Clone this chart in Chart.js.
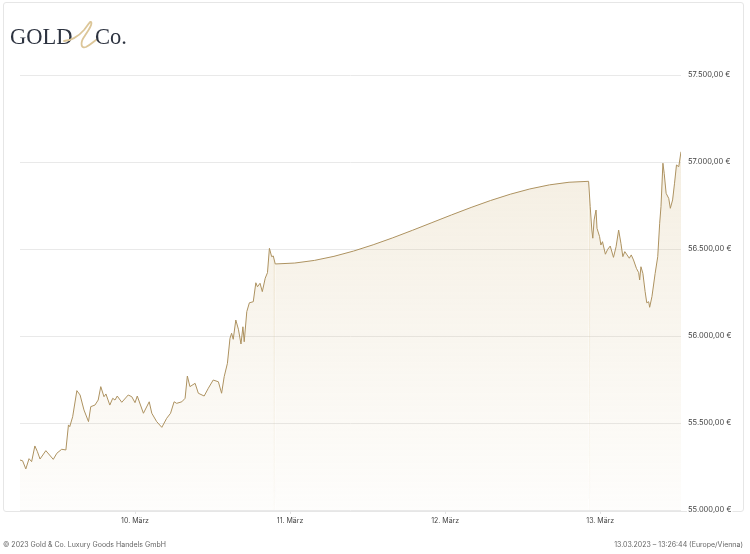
<!DOCTYPE html>
<html>
<head>
<meta charset="utf-8">
<script src="https://cdn.jsdelivr.net/npm/chart.js@4/dist/chart.umd.min.js"></script>
<style>
    body { margin: 0; background: #fff; }
    #wrap { position: relative; width: 750px; height: 554px; overflow: hidden; }
    #box { position: absolute; left: 3px; top: 2px; width: 739px; height: 508px; border: 1px solid #e6e6e6; border-radius: 3px; }
    #chart { position: absolute; left: 0; top: 0; }
    #logo { position: absolute; left: 10px; top: 14px; }
    .foot { position: absolute; top: 540px; font: 7px Inter, sans-serif; color: #666; white-space: nowrap; }
</style>
</head>
<body>
<div id="wrap">
    <div id="box"></div>
    <canvas id="chart" width="750" height="554"></canvas>
    <svg id="logo" width="130" height="42" viewBox="10 14 130 42">
        <text x="10" y="44" font-family="Liberation Serif, serif" font-size="22.5" fill="#2d3340">GOLD</text>
        <path d="M64 41 C70 41 78 37 84 30 C88 25 90 21 91 22 C93 24 88 31 84 37 C80 43 81 49 86 47 C90 45 93 42 96 40"
              fill="none" stroke="#dcc698" stroke-width="1.8" stroke-linecap="round"/>
        <text x="95" y="44" font-family="Liberation Serif, serif" font-size="22.5" fill="#2d3340">Co.</text>
    </svg>
    <div class="foot" style="left:3px">© 2023 Gold &amp; Co. Luxury Goods Handels GmbH</div>
    <div class="foot" style="right:7px">13.03.2023 – 13:26:44 (Europe/Vienna)</div>
</div>
<script>
// hours since 9 March 00:00 (Europe/Vienna)
var hours = [
    6.2, 6.6, 7.1, 7.6, 8.0, 8.5, 8.9, 9.3, 10.2, 11.35, 11.9, 12.65, 13.3, 13.7, 13.9, 14.35,
    15.0, 15.5, 16.1, 16.8, 17.15, 17.8, 18.3, 18.7, 19.2, 19.5, 20.1, 20.55, 20.9, 21.25, 21.95,
    22.95, 23.5, 24.0, 24.35, 25.3, 26.2, 26.6, 27.35, 28.15, 28.9, 29.5, 30.05, 30.45, 31.25,
    31.75, 32.1, 32.5, 33.3, 33.8, 34.7, 35.35, 36.1, 36.9, 37.4, 37.8, 38.3, 38.7, 38.95, 39.2,
    39.6, 40.0, 40.4, 40.7, 40.9, 41.3, 41.7, 42.3, 42.7, 42.95, 43.35, 43.7, 44.15, 44.5, 44.8,
    45.15, 45.4, 45.7,
    94.2, 94.45, 94.7, 94.85, 95.05, 95.35, 95.5, 95.9, 96.1, 96.35, 96.8, 97.15, 97.55, 98.05,
    98.45, 98.85, 99.2, 99.5, 99.8, 100.15, 100.5, 100.8, 101.15, 101.6, 101.95, 102.1, 102.3,
    102.6, 102.95, 103.2, 103.5, 103.65, 104.0, 104.5, 104.9, 105.2, 105.4, 105.7, 105.9, 106.2,
    106.6, 106.85, 107.2, 107.5, 107.8, 108.15, 108.5
];

var prices = [
    55287, 55283, 55236, 55295, 55278, 55368, 55335, 55293, 55341, 55291, 55326, 55349, 55345, 55489, 55479, 55536,
    55686, 55661, 55575, 55508, 55594, 55603, 55632, 55709, 55651, 55667, 55603, 55642, 55632, 55655, 55619,
    55661, 55651, 55617, 55655, 55556, 55622, 55556, 55508, 55475, 55527, 55556, 55622, 55613, 55622,
    55642, 55770, 55709, 55728, 55671, 55655, 55700, 55747, 55737, 55671, 55766, 55843, 55987, 56016, 55981,
    56092, 56039, 55954, 56053, 55967, 56140, 56191, 56197, 56306, 56283, 56303, 56255, 56332, 56364, 56504,
    56456, 56460, 56414,
    56889, 56743, 56609, 56562, 56667, 56724, 56619, 56571, 56523, 56542, 56470, 56498, 56517, 56452,
    56513, 56609, 56533, 56456, 56485, 56466, 56447, 56466, 56437, 56389, 56364, 56322, 56398,
    56360, 56255, 56191, 56197, 56165, 56226, 56360, 56456, 56648, 56743, 56993, 56935, 56820,
    56791, 56734, 56782, 56878, 56983, 56973, 57059
];

var dayTicks = [24, 48, 72, 96];
var dayLabels = ['10. März', '11. März', '12. März', '13. März'];

var priceTicks = [55000, 55500, 56000, 56500, 57000, 57500];

var lineColor = '#ad9260';
var clear = 'rgba(0,0,0,0)';

function euro(v)
{
    var s = Math.round(v).toString().replace(/\B(?=(\d{3})+(?!\d))/g, '.');

    return s + ',00 €';
}

function isGap(ctx)
{
    return ctx.p1.parsed.x - ctx.p0.parsed.x > 12;
}

// find the weekend pause
var cut = 0;
for (var i = 1; i < hours.length; i++) if (hours[i] - hours[i - 1] > 12) cut = i;

var points = [];
hours.forEach(function (h, i)
{
    if (i == cut) points.push({ x: (hours[i - 1] + h) / 2, y: null });

    points.push({ x: h, y: prices[i] });
});

// the two quotes around the pause plus one neighbour each side (for the curve's tangents)
var weekend = [cut - 2, cut - 1, cut, cut + 1].map(function (i)
{
    return { x: hours[i], y: prices[i] };
});

function fillGradient(context)
{
    var area = context.chart.chartArea;

    if (!area) return 'rgba(200,175,120,0.1)';

    var g = context.chart.ctx.createLinearGradient(0, area.top, 0, area.bottom);
    g.addColorStop(0, 'rgba(214,190,140,0.30)');
    g.addColorStop(1, 'rgba(214,190,140,0.03)');

    return g;
}

new Chart(document.getElementById('chart'), {
    type: 'line',
    data: {
        datasets: [{
            data: points,
            borderColor: lineColor,
            borderWidth: 1,
            backgroundColor: fillGradient,
            fill: 'start',
            pointRadius: 0,
            tension: 0,
            spanGaps: false
        }, {
            data: weekend,
            borderColor: lineColor,
            borderWidth: 1,
            backgroundColor: fillGradient,
            fill: 'start',
            pointRadius: 0,
            cubicInterpolationMode: 'monotone',
            segment: {
                borderColor: function (ctx) { return isGap(ctx) ? undefined : clear; }
            }
        }]
    },
    options: {
        responsive: false,
        animation: false,
        layout: { padding: { left: 20, top: 75, right: 0, bottom: 0 } },
        plugins: { legend: { display: false }, tooltip: { enabled: false } },
        scales: {
            x: {
                type: 'linear',
                min: 6.2,
                max: 108.5,
                afterBuildTicks: function (scale)
                {
                    scale.ticks = dayTicks.map(function (v) { return { value: v }; });
                },
                afterFit: function (scale) { scale.height = 44; },
                ticks: {
                    autoSkip: false,
                    maxRotation: 0,
                    padding: 3,
                    color: '#444',
                    font: { family: 'Inter', size: 7 },
                    callback: function (v) { return dayLabels[dayTicks.indexOf(v)]; }
                },
                grid: { drawOnChartArea: false, drawTicks: true, tickLength: 4, color: '#e4e4e4' },
                border: { display: false }
            },
            y: {
                position: 'right',
                min: 55000,
                max: 57500,
                afterBuildTicks: function (scale)
                {
                    scale.ticks = priceTicks.map(function (v) { return { value: v }; });
                },
                afterFit: function (scale) { scale.width = 69; },
                ticks: {
                    padding: 7,
                    color: '#444',
                    font: { family: 'Inter', size: 7.5 },
                    showLabelBackdrop: true,
                    backdropColor: '#fff',
                    backdropPadding: 1,
                    callback: function (v) { return euro(v); }
                },
                grid: { color: '#e9e9e9', drawTicks: false },
                border: { display: false }
            }
        }
    }
});
</script>
</body>
</html>
